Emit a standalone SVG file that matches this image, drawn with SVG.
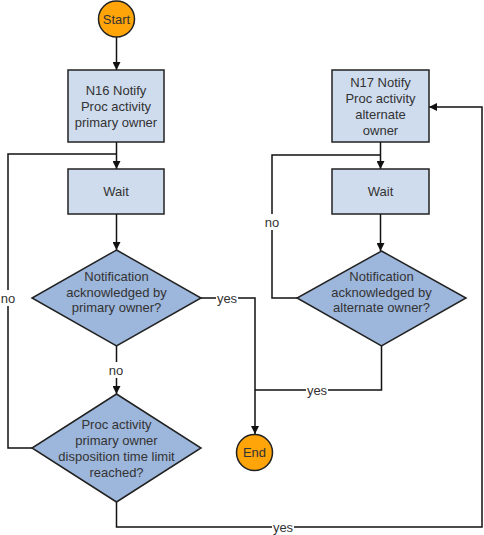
<svg xmlns="http://www.w3.org/2000/svg" width="484" height="535" viewBox="0 0 484 535">
<style>
text{font-family:"Liberation Sans",Arial,sans-serif;font-size:13px;fill:#333;text-anchor:middle;dominant-baseline:central}
.box{fill:#CFDCEE;stroke:#222;stroke-width:1.5}
.dia{fill:#9DB6DB;stroke:#222;stroke-width:1.5}
.term{fill:#FFA50A;stroke:#222;stroke-width:1.5}
.ln{fill:none;stroke:#111;stroke-width:1.5}
.lbl{fill:#fff}
</style>
<defs>
<marker id="arr" viewBox="0 0 10 10" refX="10" refY="5" markerWidth="8" markerHeight="8" markerUnits="userSpaceOnUse" orient="auto">
<path d="M0,0 L10,5 L0,10 z" fill="#111"/>
</marker>
</defs>
<g id="connectors">
<path class="ln" d="M116.5,37 V70" marker-end="url(#arr)"/>
<path class="ln" d="M116.5,142 V169" marker-end="url(#arr)"/>
<path class="ln" d="M116.5,214 V250" marker-end="url(#arr)"/>
<path class="ln" d="M116.5,346 V394" marker-end="url(#arr)"/>
<path class="ln" d="M32,448 H8 V154 H116.5"/>
<path class="ln" d="M201,298 H255 V434" marker-end="url(#arr)"/>
<path class="ln" d="M116.5,502 V527 H482 V107 H429" marker-end="url(#arr)"/>
<path class="ln" d="M380.5,142 V169" marker-end="url(#arr)"/>
<path class="ln" d="M380.5,214 V251" marker-end="url(#arr)"/>
<path class="ln" d="M297,298 H272 V155 H380.5"/>
<path class="ln" d="M381.5,346 V390 H255"/>
<rect class="lbl" x="0" y="290" width="17" height="16"/>
<text x="8" y="298">no</text>
<rect class="lbl" x="216" y="290" width="22" height="16"/>
<text x="227" y="298">yes</text>
<rect class="lbl" x="107" y="362" width="18" height="16"/>
<text x="116" y="370">no</text>
<rect class="lbl" x="263" y="214" width="18" height="16"/>
<text x="272" y="222">no</text>
<rect class="lbl" x="306" y="382" width="22" height="16"/>
<text x="317" y="390">yes</text>
<rect class="lbl" x="272" y="519" width="22" height="16"/>
<text x="283" y="527">yes</text>
</g>
<g id="start">
<circle class="term" cx="116.5" cy="19" r="18"/>
<text x="116.5" y="19">Start</text>
</g>
<g id="n16">
<rect class="box" x="68" y="70" width="96" height="72"/>
<text x="116" y="90">N16 Notify</text>
<text x="116" y="106">Proc activity</text>
<text x="116" y="122">primary owner</text>
</g>
<g id="wait1">
<rect class="box" x="68" y="169" width="96" height="45"/>
<text x="116" y="191.5">Wait</text>
</g>
<g id="dec1">
<polygon class="dia" points="116.5,250 201,298 116.5,346 32,298"/>
<text x="116.5" y="276">Notification</text>
<text x="116.5" y="292">acknowledged by</text>
<text x="116.5" y="307">primary owner?</text>
</g>
<g id="dec2">
<polygon class="dia" points="116.5,394 201,448 116.5,502 32,448"/>
<text x="116.5" y="424">Proc activity</text>
<text x="116.5" y="440">primary owner</text>
<text x="116.5" y="456">disposition time limit</text>
<text x="116.5" y="472">reached?</text>
</g>
<g id="n17">
<rect class="box" x="332" y="70" width="97" height="72"/>
<text x="380.5" y="82">N17 Notify</text>
<text x="380.5" y="98">Proc activity</text>
<text x="380.5" y="114">alternate</text>
<text x="380.5" y="130">owner</text>
</g>
<g id="wait2">
<rect class="box" x="332" y="169" width="97" height="45"/>
<text x="380.5" y="191.5">Wait</text>
</g>
<g id="dec3">
<polygon class="dia" points="381.5,251 466,298 381.5,346 297,298"/>
<text x="381.5" y="276">Notification</text>
<text x="381.5" y="292">acknowledged by</text>
<text x="381.5" y="307">alternate owner?</text>
</g>
<g id="end">
<circle class="term" cx="254.5" cy="452.5" r="18"/>
<text x="254.5" y="452.5">End</text>
</g>
</svg>
